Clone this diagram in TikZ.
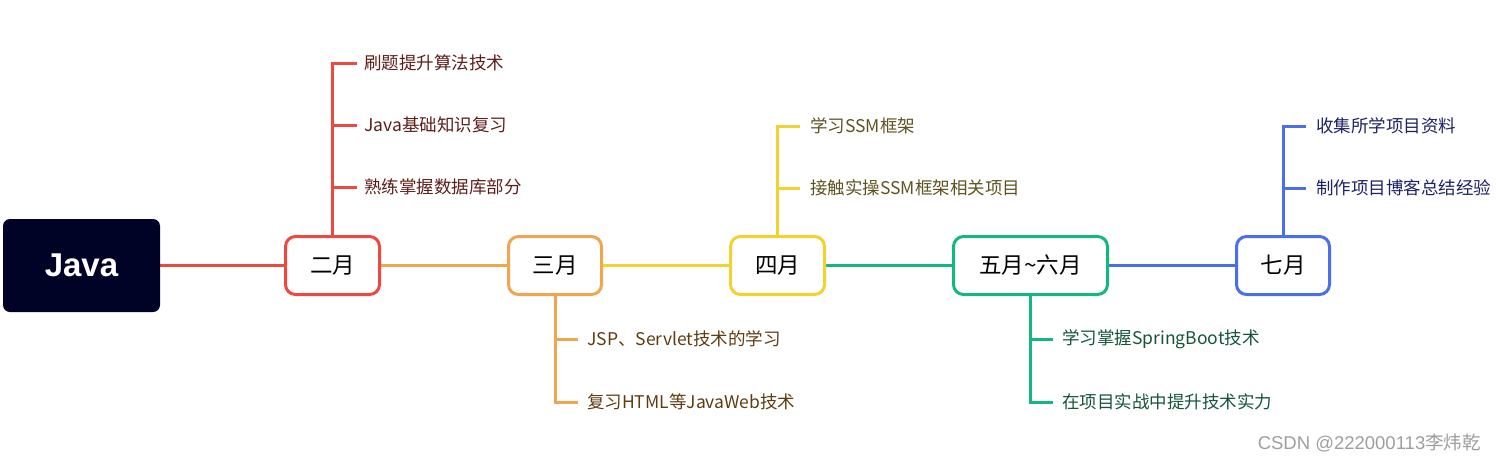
\documentclass[tikz,border=0pt]{standalone}
\usepackage{fontspec}
\setmainfont{Noto Sans CJK SC}
\newfontfamily\javafont{Liberation Sans}
\usetikzlibrary{backgrounds}
\definecolor{navy}{HTML}{000326}
\definecolor{cred}{HTML}{EB4A40}
\definecolor{corange}{HTML}{F2A54F}
\definecolor{cyellow}{HTML}{F2D22E}
\definecolor{cgreen}{HTML}{14B87F}
\definecolor{cblue}{HTML}{4B6EEA}
\definecolor{tred}{HTML}{5C1F1A}
\definecolor{torange}{HTML}{5E3C12}
\definecolor{tyellow}{HTML}{5E5220}
\definecolor{tgreen}{HTML}{14553A}
\definecolor{tblue}{HTML}{1C2266}
\begin{document}
\begin{tikzpicture}[x=1pt,y=-1pt,
  month/.style={draw=#1,line width=3pt,fill=white,rounded corners=10pt,minimum height=58pt,inner sep=0pt,font=\fontsize{22.5}{24}\selectfont},
  leaf/.style={anchor=west,inner sep=0pt,text=#1,font=\fontsize{17.5}{19}\selectfont},
  conn/.style={draw=#1,line width=3pt}]
\useasboundingbox (0,0) rectangle (1496,467);
% nodes
\node[fill=navy,rounded corners=7pt,minimum width=157pt,minimum height=93pt,inner sep=0pt,text=white,font=\javafont\bfseries\fontsize{33}{35}\selectfont] (java) at (81.5,265.5) {Java};
\node[month=cred,minimum width=94pt] (m2) at (332.5,265.5) {二月};
\node[month=corange,minimum width=93pt] (m3) at (555,265.5) {三月};
\node[month=cyellow,minimum width=94pt] (m4) at (777.5,265.5) {四月};
\node[month=cgreen,minimum width=154pt] (m5) at (1030.5,265.5) {五月\textasciitilde 六月};
\node[month=cblue,minimum width=93pt] (m7) at (1283,265.5) {七月};
% leaves
\node[leaf=tred] (a1) at (364,63) {刷题提升算法技术};
\node[leaf=tred] (a2) at (364,125) {Java基础知识复习};
\node[leaf=tred] (a3) at (364,187) {熟练掌握数据库部分};
\node[leaf=torange] (b1) at (587,339) {JSP、Servlet技术的学习};
\node[leaf=torange] (b2) at (587,402) {复习HTML等JavaWeb技术};
\node[leaf=tyellow] (c1) at (810,126) {学习SSM框架};
\node[leaf=tyellow] (c2) at (810,188) {接触实操SSM框架相关项目};
\node[leaf=tgreen] (d1) at (1062,339) {学习掌握SpringBoot技术};
\node[leaf=tgreen] (d2) at (1062,402) {在项目实战中提升技术实力};
\node[leaf=tblue] (e1) at (1316,126) {收集所学项目资料};
\node[leaf=tblue] (e2) at (1316,188) {制作项目博客总结经验};
\node[anchor=east,inner sep=0pt,text=black!38,font=\fontsize{18.5}{20}\selectfont] (wm) at (1481,443) {{\javafont CSDN @222000113}李炜乾};
% connectors
\begin{pgfonlayer}{background}
\path[conn=cred] (java.east) -- (m2.west);
\path[conn=corange] (m2.east) -- (m3.west);
\path[conn=cyellow] (m3.east) -- (m4.west);
\path[conn=cgreen] (m4.east) -- (m5.west);
\path[conn=cblue] (m5.east) -- (m7.west);
\path[conn=cred] (m2.center) |- ([xshift=-7pt]a1.west);
\path[conn=cred] (m2.center) |- ([xshift=-7pt]a2.west);
\path[conn=cred] (m2.center) |- ([xshift=-7pt]a3.west);
\path[conn=corange] (m3.center) |- ([xshift=-9pt]b1.west);
\path[conn=corange] (m3.center) |- ([xshift=-9pt]b2.west);
\path[conn=cyellow] (m4.center) |- ([xshift=-10pt]c1.west);
\path[conn=cyellow] (m4.center) |- ([xshift=-10pt]c2.west);
\path[conn=cgreen] (m5.center) |- ([xshift=-9pt]d1.west);
\path[conn=cgreen] (m5.center) |- ([xshift=-9pt]d2.west);
\path[conn=cblue] (m7.center) |- ([xshift=-10pt]e1.west);
\path[conn=cblue] (m7.center) |- ([xshift=-10pt]e2.west);
\end{pgfonlayer}
\end{tikzpicture}
\end{document}
